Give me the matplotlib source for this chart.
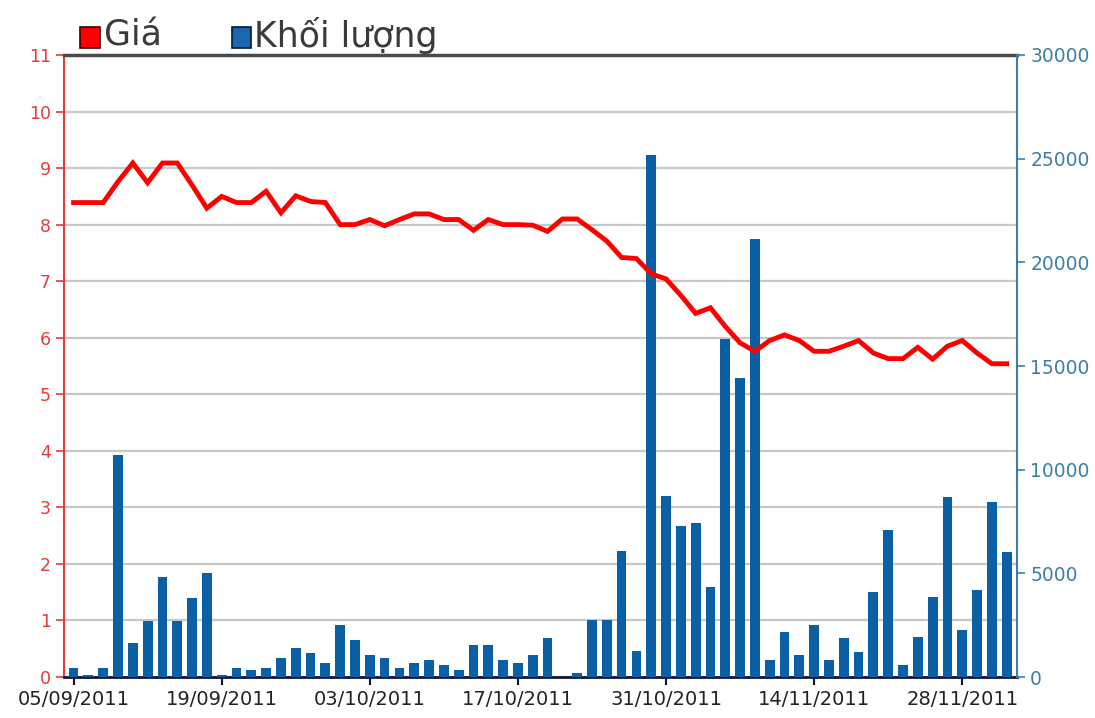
import matplotlib

matplotlib.use("Agg")
import matplotlib.pyplot as plt
import numpy as np
import pandas as pd
from matplotlib.patches import Rectangle

# trading days 05/09/2011 .. 01/12/2011
dates = pd.bdate_range("2011-09-05", "2011-12-01")
tick_labels = ["05/09/2011", "19/09/2011", "03/10/2011", "17/10/2011",
               "31/10/2011", "14/11/2011", "28/11/2011"]

price = [
    8.39, 8.39, 8.39, 8.76, 9.09, 8.74, 9.09, 9.09, 8.70, 8.29,
    8.50, 8.39, 8.39, 8.59, 8.21, 8.51, 8.41, 8.39, 8.00, 8.00,
    8.09, 7.98, 8.09, 8.19, 8.19, 8.09, 8.09, 7.90, 8.09, 8.00,
    8.00, 7.99, 7.88, 8.10, 8.10, 7.91, 7.71, 7.42, 7.40, 7.13,
    7.04, 6.75, 6.43, 6.53, 6.20, 5.91, 5.76, 5.95, 6.05, 5.95,
    5.76, 5.76, 5.85, 5.95, 5.73, 5.63, 5.63, 5.83, 5.62, 5.85,
    5.95, 5.73, 5.54, 5.54,
]
volume = [
    450, 100, 450, 10700, 1660, 2700, 4800, 2700, 3830, 5020,
    100, 450, 340, 450, 930, 1420, 1175, 690, 2510, 1770,
    1060, 930, 450, 690, 800, 580, 340, 1550, 1550, 800,
    690, 1060, 1900, 0, 210, 2730, 2730, 6080, 1250, 25200,
    8730, 7290, 7420, 4350, 16300, 14430, 21140, 830, 2160, 1060,
    2530, 830, 1880, 1190, 4110, 7110, 570, 1920, 3860, 8700,
    2290, 4220, 8460, 6020,
]

x = np.arange(len(dates))
tick_pos = [i for i, d in enumerate(dates) if d.strftime("%d/%m/%Y") in tick_labels]

RED = "#ff0000"
BLUE = "#0b5fa5"
AXIS_RED = "#e33b3b"
AXIS_BLUE = "#3d7ea6"

fig = plt.figure(figsize=(10.95, 7.18), dpi=100)
ax = fig.add_axes([0.0584, 0.0571, 0.8704, 0.8663])
ax_vol = ax.twinx()
ax_line = ax.twinx()

# price axis (left) with grid
ax.set_xlim(-0.65, 63.7)
ax.set_ylim(0, 11)
ax.set_yticks(range(0, 12))
ax.tick_params(axis="y", colors=AXIS_RED, labelsize=12.5, length=6, width=1.2)
ax.yaxis.grid(True, color="#c8c8c8", linewidth=1.6)
ax.set_axisbelow(True)
ax.set_xticks(tick_pos)
ax.set_xticklabels(tick_labels)
ax.tick_params(axis="x", colors="#111133", labelsize=14, length=6, width=1.5, pad=3)
for lab in ax.get_xticklabels():
    lab.set_color("#222222")
ax.spines["left"].set_color(AXIS_RED)
ax.spines["left"].set_linewidth(1.5)
ax.spines["top"].set_color("#4a4a4a")
ax.spines["top"].set_linewidth(2.5)
ax.spines["bottom"].set_color("#151538")
ax.spines["bottom"].set_linewidth(2)
ax.spines["right"].set_visible(False)

# volume bars (right)
ax_vol.bar(x, volume, width=0.66, color=BLUE, zorder=2)
ax_vol.set_ylim(0, 30000)
ax_vol.set_yticks(range(0, 30001, 5000))
ax_vol.tick_params(axis="y", colors=AXIS_BLUE, labelsize=13.5, length=6, width=1.2)
ax_vol.spines["right"].set_color(AXIS_BLUE)
ax_vol.spines["right"].set_linewidth(1.5)
for s in ("left", "top", "bottom"):
    ax_vol.spines[s].set_visible(False)

# price line on top
ax_line.plot(x, price, color=RED, linewidth=3.5, solid_joinstyle="miter")
ax_line.set_ylim(0, 11)
ax_line.axis("off")

# legend drawn as figure patches + text
fig.patches.append(Rectangle((80 / 1095, 1 - 48 / 718), 20 / 1095, 21 / 718,
                             transform=fig.transFigure, facecolor="#ff0000",
                             edgecolor="#400000", linewidth=1.2))
fig.text(104 / 1095, 1 - 36 / 718, "Giá", fontsize=25, color="#3a3a3a", va="center")
fig.patches.append(Rectangle((232 / 1095, 1 - 48 / 718), 19 / 1095, 21 / 718,
                             transform=fig.transFigure, facecolor="#1a66b0",
                             edgecolor="#001a33", linewidth=1.2))
fig.text(254 / 1095, 1 - 36 / 718, "Khối lượng", fontsize=25, color="#3a3a3a", va="center")

fig.savefig("out.png", dpi=100)
